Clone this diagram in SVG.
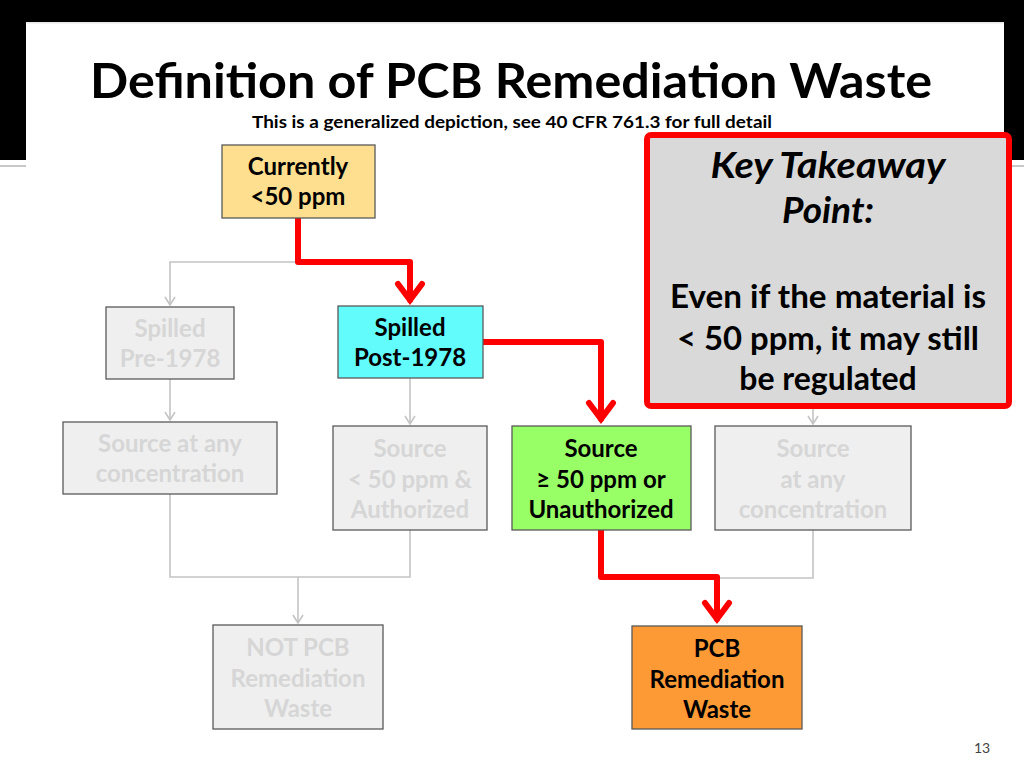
<svg xmlns="http://www.w3.org/2000/svg" width="1024" height="768" viewBox="0 0 1024 768">
<style>
.node{stroke:#595959;stroke-width:1.3}
.faded{fill:#efefef}
.t{font-family:Lato,"Open Sans","Liberation Sans",sans-serif;font-weight:bold;font-size:24px;text-anchor:middle}
.ft{fill:#d6d6d6}
.dt{fill:#000}
.k{font-family:Lato,"Liberation Sans",sans-serif;font-weight:bold;text-anchor:middle}
.gray{fill:none;stroke:#c4c4c4;stroke-width:1.6}
.red{fill:none;stroke:#ff0000;stroke-width:6;stroke-linejoin:round;stroke-linecap:round}
</style>
<defs>
<marker id="redArrow" markerUnits="userSpaceOnUse" markerWidth="50" markerHeight="50" viewBox="-25 -25 50 50" refX="0" refY="0" orient="auto" overflow="visible">
<path d="M-16,-12 L0,0 L-16,12" fill="none" stroke="#ff0000" stroke-width="6" stroke-linejoin="miter" stroke-linecap="round"/>
</marker>
<marker id="grayArrow" markerUnits="userSpaceOnUse" markerWidth="20" markerHeight="20" viewBox="-10 -10 20 20" refX="0" refY="0" orient="auto" overflow="visible">
<path d="M-8,-5 L0,0 L-8,5" fill="none" stroke="#c4c4c4" stroke-width="1.6"/>
</marker>
</defs>

<rect x="0" y="0" width="1024" height="160" fill="#000"/>
<rect x="0" y="165" width="1024" height="2" fill="#c8c8c8"/>
<rect x="26" y="22" width="978" height="746" fill="#fff"/>
<rect x="26" y="22" width="978" height="1.5" fill="#e6e6e6"/>

<text x="511" y="98" font-family="Lato,'Liberation Sans',sans-serif" font-weight="bold" font-size="48" text-anchor="middle" textLength="842" lengthAdjust="spacingAndGlyphs">Definition of PCB Remediation Waste</text>
<text x="512" y="128" font-family="Lato,'Liberation Sans',sans-serif" font-weight="bold" font-size="17" text-anchor="middle" textLength="520" lengthAdjust="spacingAndGlyphs">This is a generalized depiction, see 40 CFR 761.3 for full detail</text>

<g id="connectors">
<path class="gray" d="M298,262 H170 V305" marker-end="url(#grayArrow)"/>
<path class="gray" d="M170,379 V420" marker-end="url(#grayArrow)"/>
<path class="gray" d="M410,378 V424" marker-end="url(#grayArrow)"/>
<path class="gray" d="M170,494 V577 H410 V530"/>
<path class="gray" d="M298,577 V623" marker-end="url(#grayArrow)"/>
<path class="gray" d="M813,405 V424" marker-end="url(#grayArrow)"/>
<path class="gray" d="M813,530 V578 H718"/>
<path class="red" d="M298,218 V262 H410 V300" marker-end="url(#redArrow)"/>
<path class="red" d="M483,342 H601 V419" marker-end="url(#redArrow)"/>
<path class="red" d="M601,530 V577 H717 V619" marker-end="url(#redArrow)"/>
</g>

<g id="currently">
<rect class="node" x="222" y="145" width="153" height="73" fill="#fddf8f"/>
<text class="t dt" x="298" y="175">Currently</text>
<text class="t dt" x="298" y="205">&lt;50 ppm</text>
</g>

<g id="spilled-pre">
<rect class="node faded" x="106" y="307" width="128" height="72"/>
<text class="t ft" x="170" y="337">Spilled</text>
<text class="t ft" x="170" y="367">Pre-1978</text>
</g>

<g id="spilled-post">
<rect class="node" x="338" y="306" width="145" height="72" fill="#62fcfd"/>
<text class="t dt" x="410" y="336">Spilled</text>
<text class="t dt" x="410" y="366">Post-1978</text>
</g>

<g id="source-left">
<rect class="node faded" x="63" y="422" width="214" height="72" stroke="#404040"/>
<text class="t ft" x="170" y="452">Source at any</text>
<text class="t ft" x="170" y="482">concentration</text>
</g>

<g id="source-authorized">
<rect class="node faded" x="333" y="426" width="154" height="104"/>
<text class="t ft" x="410" y="457">Source</text>
<text class="t ft" x="410" y="488">&lt; 50 ppm &amp;</text>
<text class="t ft" x="410" y="518">Authorized</text>
</g>

<g id="source-unauthorized">
<rect class="node" x="512" y="426" width="179" height="104" fill="#99ff66" stroke="#3c6e2a"/>
<text class="t dt" x="601" y="457">Source</text>
<text class="t dt" x="601" y="488">≥ 50 ppm or</text>
<text class="t dt" x="601" y="518">Unauthorized</text>
</g>

<g id="source-right">
<rect class="node faded" x="715" y="426" width="196" height="104"/>
<text class="t ft" x="813" y="457">Source</text>
<text class="t ft" x="813" y="488">at any</text>
<text class="t ft" x="813" y="518">concentration</text>
</g>

<g id="not-pcb">
<rect class="node faded" x="213" y="625" width="170" height="104"/>
<text class="t ft" x="298" y="656">NOT PCB</text>
<text class="t ft" x="298" y="687">Remediation</text>
<text class="t ft" x="298" y="717">Waste</text>
</g>

<g id="pcb">
<rect class="node" x="632" y="626" width="170" height="103" fill="#fe9a35" stroke="#7a4a1a"/>
<text class="t dt" x="717" y="657">PCB</text>
<text class="t dt" x="717" y="688">Remediation</text>
<text class="t dt" x="717" y="718">Waste</text>
</g>

<g id="key-takeaway">
<rect x="647" y="135" width="362" height="271" rx="4" fill="#d9d9d9" stroke="#ff0000" stroke-width="6"/>
<text class="k" x="828" y="178" font-style="italic" font-size="37" textLength="235" lengthAdjust="spacingAndGlyphs">Key Takeaway</text>
<text class="k" x="828" y="223" font-style="italic" font-size="37">Point:</text>
<text class="k" x="828" y="308" font-size="32" textLength="316" lengthAdjust="spacingAndGlyphs">Even if the material is</text>
<text class="k" x="828" y="350" font-size="32" textLength="302" lengthAdjust="spacingAndGlyphs">&lt; 50 ppm, it may still</text>
<text class="k" x="828" y="390" font-size="32">be regulated</text>
</g>

<text x="982" y="753" font-family="Lato,'Liberation Sans',sans-serif" font-size="14" fill="#444" text-anchor="middle">13</text>
</svg>
